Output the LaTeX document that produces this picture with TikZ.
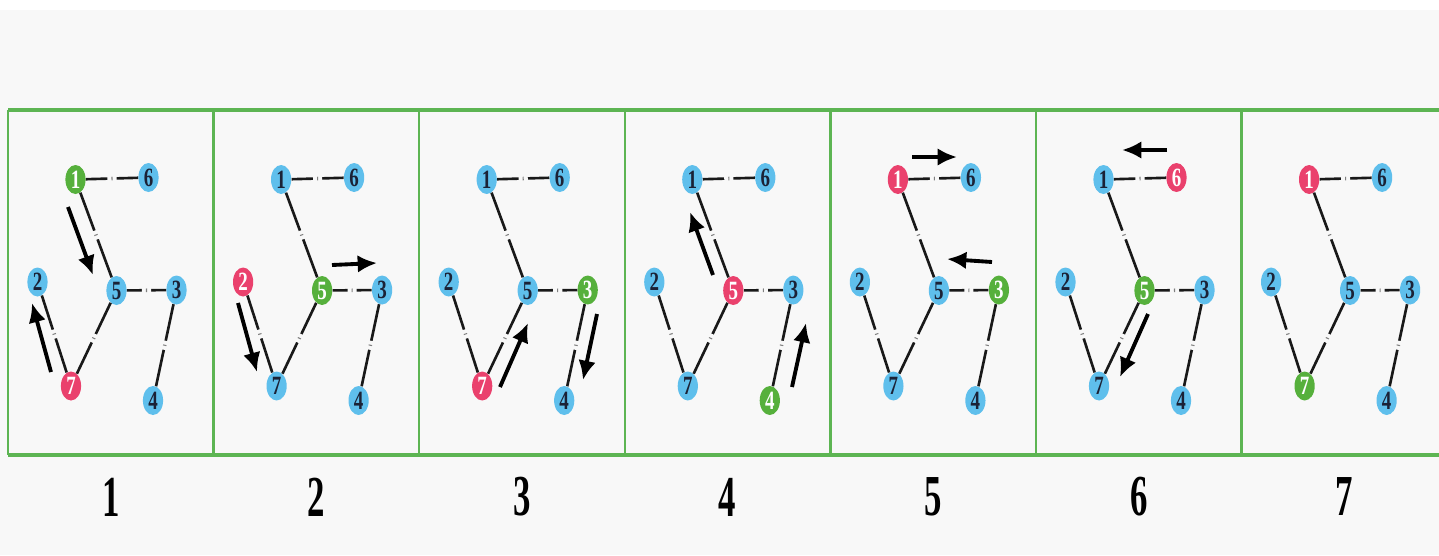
\documentclass[tikz,border=0pt]{standalone}
\usepackage{fontspec}
\setmainfont{Liberation Serif}
\usepackage{graphicx}
\usepackage{tikz}
\usetikzlibrary{shapes.geometric, arrows.meta, decorations.markings}
\definecolor{paper}{HTML}{F8F8F8}
\definecolor{frame}{HTML}{5DB553}
\definecolor{sky}{HTML}{5FBFEC}
\definecolor{leaf}{HTML}{56B03C}
\definecolor{hot}{HTML}{EA416D}
\definecolor{ink}{HTML}{1B2236}
\newcommand{\slim}[2][0.72]{\scalebox{#1}[1]{#2}}

\begin{document}
\begin{tikzpicture}[x=0.02cm, y=-0.02cm, >=Latex]
  \tikzstyle{vtx}=[ellipse, minimum width=11.5pt, minimum height=16.5pt, inner sep=0pt,
                   font=\fontsize{15}{15}\selectfont\bfseries]
  \tikzstyle{link}=[line width=1.5pt, color=black!90, postaction={decorate},
                    decoration={markings, mark=at position 0.5 with
                    {\fill[paper] (-2.6pt,-1.8pt) rectangle (2.6pt,1.8pt);
                     \fill[gray] (-0.3pt,-1pt) rectangle (0.3pt,1pt);}}]
  \tikzstyle{mv}=[-{Latex[length=11pt,width=10pt]}, line width=2.2pt]
  \tikzstyle{tag}=[font=\fontsize{33}{33}\selectfont\bfseries]
  \useasboundingbox (0,0) rectangle (1439,555);
  \fill[paper] (0,0) rectangle (1439,555);
  \fill[white] (0,0) rectangle (1439,10);
  % frame
  \draw[frame, line width=2pt] (8,110) -- (1439,110);
  \draw[frame, line width=2pt] (8,455) -- (1439,455);
  \foreach \k in {0,...,6}
    \draw[frame, line width=1.3pt] ({8+205.6*\k},110) -- ({8+205.6*\k},455);
  % panels: step / red node / green node
  \foreach \k/\r/\g in {1/7/1, 2/2/5, 3/7/3, 4/5/4, 5/1/3, 6/6/5, 7/1/7}{
    \begin{scope}[shift={({8+205.6*(\k-1)},0)}]
      \foreach \n/\px/\py in {1/67.5/179.5, 6/140.5/177.5, 2/29.5/282, 5/108.5/290.5,
                              3/168.5/290, 7/63/386, 4/145/400.5}{
        \def\fc{sky}\def\tc{ink}
        \ifnum\n=\r \def\fc{hot}\def\tc{white}\fi
        \ifnum\n=\g \def\fc{leaf}\def\tc{white}\fi
        \node[vtx, fill=\fc, text=\tc](v\k\n) at (\px,\py){\slim{\n}};
      }
      \foreach \a/\b in {1/6, 1/5, 5/3, 5/7, 7/2, 3/4}
        \draw[link](v\k\a)--(v\k\b);
      \node[tag](t\k) at (102.8,497){\slim[0.6]{\k}};
    \end{scope}
  }
  % moves
  \foreach \i/\sx/\sy/\ex/\ey in {1/68/207/93/275, 2/51/372/32/303,
      3/332/265/377/263, 4/238/303/257/372, 5/500/387/528/323, 6/597/314/583/380,
      7/713/275/690/212, 8/792/387/806/323, 9/912/157/957/157, 10/992/262/947/259,
      11/1167/150/1122/150, 12/1148/314/1120/377}{
    \coordinate (m\i s) at (\sx,\sy);
    \coordinate (m\i e) at (\ex,\ey);
    \draw[mv](m\i s)--(m\i e);
  }
\end{tikzpicture}
\end{document}
